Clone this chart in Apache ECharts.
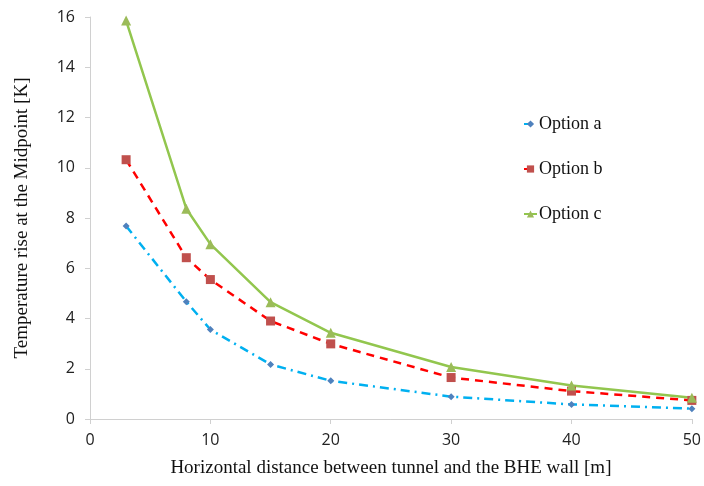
<!DOCTYPE html>
<html>
<head>
<meta charset="utf-8">
<script src="https://cdn.jsdelivr.net/npm/echarts@6/dist/echarts.min.js"></script>
<style>
  html, body { margin: 0; padding: 0; background: #fff; }
  #chart { width: 704px; height: 486px; }
</style>
</head>
<body>
<div id="chart"></div>
<script>
// distances in m
const distances = [3, 8, 10, 15, 20, 30, 40, 50]
// temperature rise at the midpoint, K
const optionA = [7.68, 4.67, 3.56, 2.17, 1.52, 0.89, 0.58, 0.41]
const optionB = [10.32, 6.42, 5.55, 3.9, 2.99, 1.65, 1.11, 0.74]
const optionC = [15.86, 8.37, 6.96, 4.65, 3.43, 2.07, 1.33, 0.85]
const seriesNames = ['Option a', 'Option b', 'Option c']

const pairs = (ys) => distances.map((x, i) => [x, ys[i]])

const serif = 'Liberation Serif'
const sans = 'Open Sans'

let myChart = echarts.init(document.getElementById('chart'))
const options = {
  animation: false,
  backgroundColor: '#fff',
  grid: {
    left: 90,
    right: 12,
    top: 17,
    bottom: 67
  },
  legend: {
    orient: 'vertical',
    left: 518,
    top: 110,
    itemGap: 27,
    itemWidth: 13,
    itemHeight: 9,
    textStyle: { fontFamily: serif, fontSize: 18, color: '#111', padding: [0, 0, 0, -3] },
    data: seriesNames
  },
  xAxis: {
    type: 'value',
    min: 0,
    max: 50,
    interval: 10,
    name: 'Horizontal distance between tunnel and the BHE wall [m]',
    nameLocation: 'middle',
    nameGap: 40,
    nameTextStyle: { fontFamily: serif, fontSize: 19, color: '#111' },
    axisLine: { lineStyle: { color: '#d0d0d0' } },
    axisTick: { show: true, length: 5, lineStyle: { color: '#d0d0d0' } },
    axisLabel: { fontFamily: sans, fontSize: 16, color: '#222', margin: 13 },
    splitLine: { show: false }
  },
  yAxis: {
    type: 'value',
    min: 0,
    max: 16,
    interval: 2,
    name: 'Temperature rise at the Midpoint [K]',
    nameLocation: 'middle',
    nameGap: 58,
    nameTextStyle: { fontFamily: serif, fontSize: 19, color: '#111' },
    axisLine: { show: true, lineStyle: { color: '#d0d0d0' } },
    axisTick: { show: true, length: 5, lineStyle: { color: '#d0d0d0' } },
    axisLabel: { fontFamily: sans, fontSize: 16, color: '#222', margin: 15 },
    splitLine: { show: false }
  },
  series: [
    {
      name: seriesNames[0],
      type: 'line',
      data: pairs(optionA),
      symbol: 'diamond',
      symbolSize: 7,
      itemStyle: { color: '#4f81bd' },
      lineStyle: { color: '#00b0f0', width: 2.5, type: [9, 5, 2, 5] }
    },
    {
      name: seriesNames[1],
      type: 'line',
      data: pairs(optionB),
      symbol: 'rect',
      symbolSize: 9,
      itemStyle: { color: '#c0504d' },
      lineStyle: { color: '#ff0000', width: 2.5, type: [8, 6] }
    },
    {
      name: seriesNames[2],
      type: 'line',
      data: pairs(optionC),
      symbol: 'triangle',
      symbolSize: 10,
      itemStyle: { color: '#9bbb59' },
      lineStyle: { color: '#92c64e', width: 2.5 }
    }
  ]
}
myChart.setOption(options)
</script>
</body>
</html>
